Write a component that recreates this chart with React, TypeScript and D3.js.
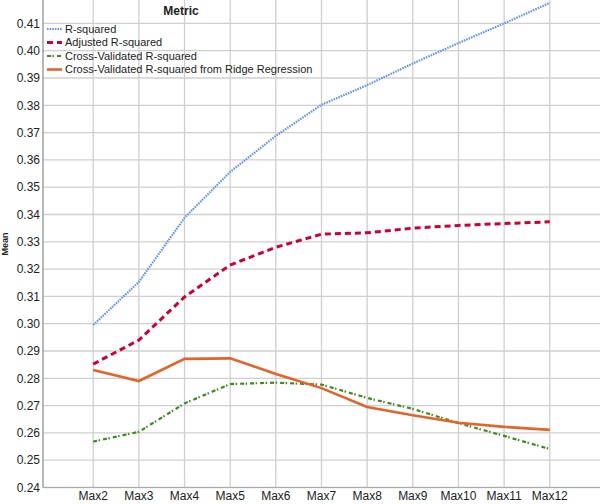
import React from "react";
import * as d3 from "d3";

const categories = ["Max2", "Max3", "Max4", "Max5", "Max6", "Max7", "Max8", "Max9", "Max10", "Max11", "Max12"];
const rSquared = [0.2995, 0.3153, 0.3388, 0.3556, 0.3688, 0.3802, 0.3874, 0.3953, 0.4028, 0.4100, 0.4175];
const adjRSquared = [0.2852, 0.2940, 0.3098, 0.3215, 0.3280, 0.3328, 0.3333, 0.3350, 0.3360, 0.3367, 0.3373];
const cvRSquared = [0.2568, 0.2604, 0.2708, 0.2779, 0.2784, 0.2777, 0.2728, 0.2688, 0.2636, 0.2589, 0.2541];
const ridgeRSquared = [0.2830, 0.2790, 0.2871, 0.2873, 0.2816, 0.2764, 0.2695, 0.2665, 0.2637, 0.2622, 0.2611];
const yTicks = [0.24, 0.25, 0.26, 0.27, 0.28, 0.29, 0.30, 0.31, 0.32, 0.33, 0.34, 0.35, 0.36, 0.37, 0.38, 0.39, 0.40, 0.41];
const seriesNames = ["R-squared", "Adjusted R-squared", "Cross-Validated R-squared", "Cross-Validated R-squared from Ridge Regression"];

const W = 600, H = 504;
const left = 43, right = 600, top = 0, bottom = 487.5;

export default function App() {
  const x = d3.scalePoint<string>().domain(categories).range([left, right]).padding(1.1);
  const y = d3.scaleLinear().domain([0.24, 0.41]).range([bottom, 23.4]);
  const line = d3.line<number>().x((_, i) => x(categories[i]) as number).y((v) => y(v));

  const styles = [
    { color: "#6495ed", dash: "1.6,1", width: 2.2 },
    { color: "#cc0033", dash: "6,4", width: 3 },
    { color: "#3e8a1f", dash: "4,1.5,1.5,3", width: 2.2 },
    { color: "#e5622a", dash: "", width: 2.6 },
  ];
  const data = [rSquared, adjRSquared, cvRSquared, ridgeRSquared];

  return (
    <svg width={W} height={H} style={{ position: "absolute", left: 0, top: 0, background: "#fff" }}
      fontFamily="Arial, 'Liberation Sans', sans-serif">
      {yTicks.map((t) => (
        <line key={"hg" + t} x1={left} x2={right} y1={y(t)} y2={y(t)} stroke="#cfcfcf" strokeWidth={1.3} />
      ))}
      {categories.map((c) => (
        <line key={"vg" + c} x1={x(c)} x2={x(c)} y1={top} y2={bottom} stroke="#cfcfcf" strokeWidth={1.3} />
      ))}
      <line x1={left} x2={left} y1={top} y2={bottom} stroke="#888" strokeWidth={1.2} />
      <line x1={left} x2={right} y1={bottom} y2={bottom} stroke="#aaa" strokeWidth={1.2} />
      {yTicks.map((t) => (
        <text key={"yl" + t} x={40} y={y(t)} dy="0.35em" textAnchor="end" fontSize={12} fill="#222">
          {t.toFixed(2)}
        </text>
      ))}
      {categories.map((c) => (
        <text key={"xl" + c} x={x(c)} y={500} textAnchor="middle" fontSize={12} fill="#222">
          {c}
        </text>
      ))}
      <text transform={`translate(8,244) rotate(-90)`} textAnchor="middle" fontSize={9} fontWeight="bold" fill="#222">
        Mean
      </text>
      {data.map((d, i) => (
        <path key={"s" + i} d={line(d) || ""} fill="none" stroke={styles[i].color}
          strokeWidth={styles[i].width} strokeDasharray={styles[i].dash} />
      ))}
      <text x={181} y={15} textAnchor="middle" fontSize={12} fontWeight="bold" fill="#222">Metric</text>
      {seriesNames.map((n, i) => (
        <g key={"lg" + i} transform={`translate(0,${29 + i * 13.5})`}>
          <line x1={47} x2={62} y1={0} y2={0} stroke={styles[i].color}
            strokeWidth={styles[i].width} strokeDasharray={styles[i].dash} />
          <text x={65} y={0} dy="0.35em" fontSize={11} fill="#222">{n}</text>
        </g>
      ))}
    </svg>
  );
}
